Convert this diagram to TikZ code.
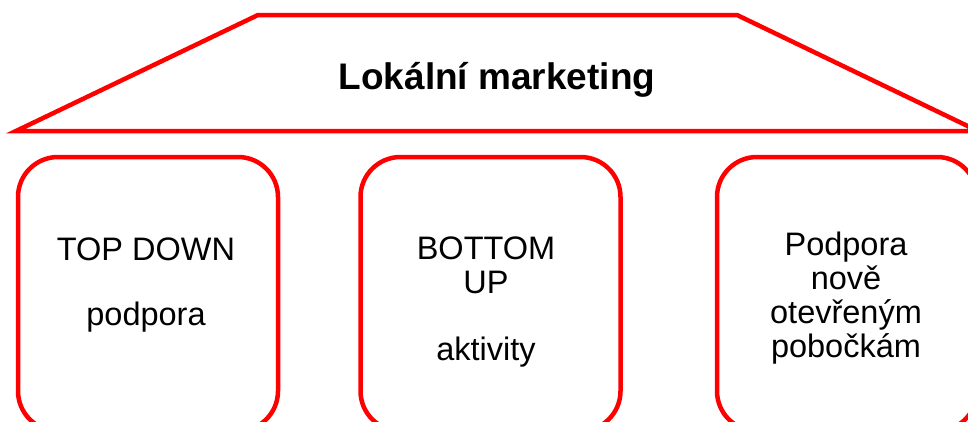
\documentclass[tikz,border=0pt]{standalone}
\usepackage{fontspec}
\setmainfont{Liberation Sans}
\begin{document}
\begin{tikzpicture}[x=1pt,y=-1pt,
  redline/.style={draw=red, line width=4.5pt},
  pillar/.style={redline, rectangle, rounded corners=40pt, minimum width=260pt, minimum height=274pt, inner sep=0pt},
  lbl/.style={font=\fontsize{32.5}{34}\selectfont, align=center, inner sep=0pt, anchor=base},
  title/.style={font=\fontsize{37}{40}\selectfont\bfseries, inner sep=0pt}]
\useasboundingbox (0,0) rectangle (968,421);
\clip (0,0) rectangle (968,421);
\coordinate (tl) at (258,15);
\coordinate (tr) at (737,15);
\coordinate (br) at (978,131);
\coordinate (bl) at (16,131);
\draw[redline, line join=miter] (bl) -- (tl) -- (tr) -- (br) -- cycle;
\node[title] (title) at (497,80) {Lokální marketing};
\node[pillar] (b1) at (148,294) {};
\node[pillar] (b2) at (490.5,294) {};
\node[pillar] (b3) at (847,294) {};
\node[lbl] (t1a) at (146,260) {TOP DOWN};
\node[lbl] (t1b) at (146,325) {podpora};
\node[lbl] (t2a) at (486,293) {BOTTOM\\UP};
\node[lbl] (t2b) at (486,360) {aktivity};
\node[lbl] (t3) at (846,357) {Podpora\\nově\\otevřeným\\pobočkám};
\end{tikzpicture}
\end{document}
